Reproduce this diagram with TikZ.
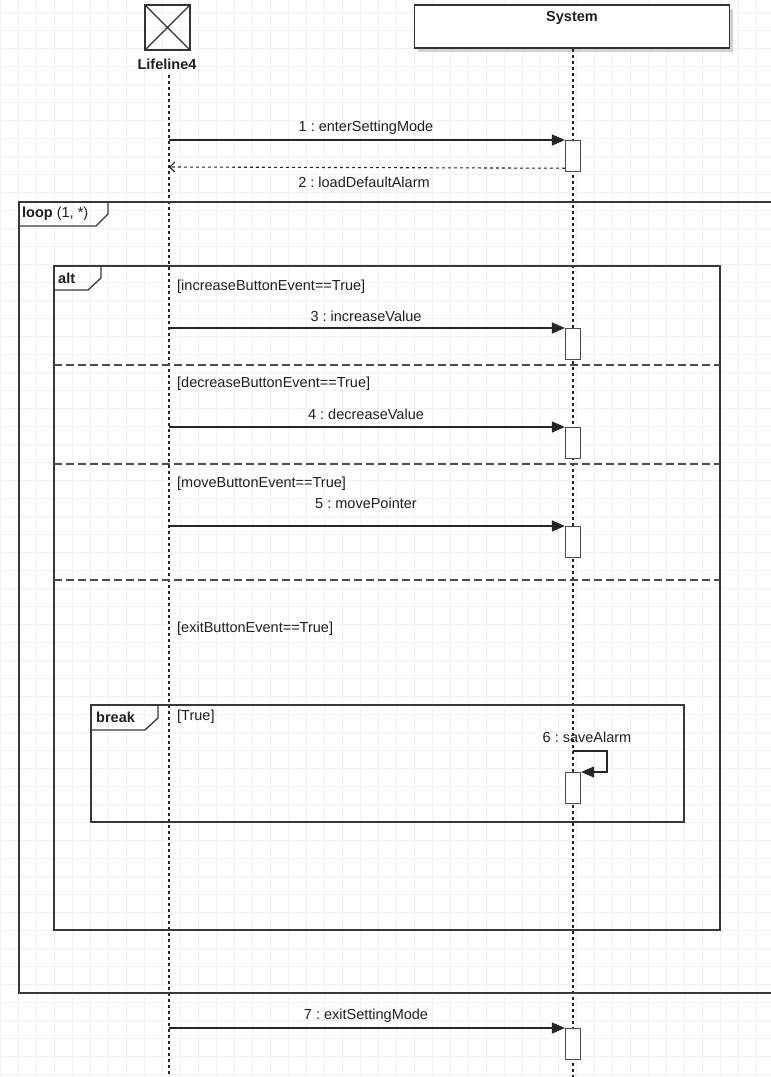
\documentclass[tikz,border=0pt]{standalone}
\usepackage{fontspec}
\setmainfont{Liberation Sans}
\usetikzlibrary{arrows.meta}
\begin{document}
\frenchspacing
\begin{tikzpicture}[x=1pt,y=-1pt,
  font=\fontsize{14.5}{17}\selectfont,
  gridline/.style={draw=black!5, line width=0.6pt},
  frame/.style={draw=black!78, line width=1.3pt},
  msg/.style={draw=black!85, line width=1.2pt, -{Triangle[length=13pt,width=11pt]}},
  ret/.style={draw=black!85, line width=1.1pt, dash pattern=on 3pt off 3pt, -{Straight Barb[length=5pt,width=10pt]}},
  life/.style={draw=black!85, line width=1.1pt, dash pattern=on 3pt off 3pt},
  act/.style={draw=black!70, fill=white, line width=1.2pt, minimum width=15pt, minimum height=31pt, inner sep=0pt, anchor=north},
  sep/.style={draw=black!70, line width=1.2pt, dash pattern=on 8pt off 4pt},
  lbl/.style={text=black!88, inner sep=0pt},
  guard/.style={text=black!88, inner sep=0pt, anchor=west}]
\useasboundingbox (0,0) rectangle (771,1077);
\fill[white] (0,0) rectangle (771,1077);
% background grid
\foreach \gx in {0,18,...,770} \draw[gridline] (\gx,0) -- (\gx,1077);
\foreach \gy in {12,30,...,1076} \draw[gridline] (0,\gy) -- (771,\gy);

% heads
\node[draw=black!80, line width=1.2pt, minimum width=45pt, minimum height=45pt, inner sep=0pt] (h1) at (167.5,27.5) {};
\draw[black!80, line width=1.1pt] (h1.north west) -- (h1.south east) (h1.north east) -- (h1.south west);
\node[lbl, font=\fontsize{14.5}{17}\selectfont\bfseries] (h1l) at (167,64) {Lifeline4};
\fill[black!18] (418,9) rectangle (733,52);
\node[draw=black!80, fill=white, line width=1.2pt, minimum width=315pt, minimum height=43pt, inner sep=0pt] (h2) at (572,26.5) {};
\node[lbl, font=\fontsize{14.5}{17}\selectfont\bfseries] (h2l) at (572,18) {System};

% lifelines
\coordinate (L1top) at (169,75);
\coordinate (L1bot) at (169,1077);
\coordinate (L2bot) at (573,1077);
\draw[life] (L1top) -- (L1bot);
\draw[life] (h2.south -| L2bot) -- (L2bot);

% loop frame
\coordinate (loopTR) at (771,202);
\coordinate (loopBR) at (771,993);
\draw[frame] (loopTR) -- (19,202) -- (19,993) -- (loopBR);
\draw[frame] (19,226) -- (96,226) -- (108,214) -- (108,202);
\node[lbl, anchor=west] (loopl) at (22,214) {\textbf{loop} (1, *)};

% alt frame
\draw[frame] (54,266) rectangle (720,930);
\draw[frame] (54,290) -- (88,290) -- (101,278) -- (101,266);
\node[lbl, anchor=west, font=\fontsize{14.5}{17}\selectfont\bfseries] (altl) at (58,278) {alt};
\draw[sep] (54,365) -- (720,365);
\draw[sep] (54,464) -- (720,464);
\draw[sep] (54,580) -- (720,580);
\node[guard] (g1) at (177,287) {[increaseButtonEvent==True]};
\node[guard] (g2) at (177,384) {[decreaseButtonEvent==True]};
\node[guard] (g3) at (177,484) {[moveButtonEvent==True]};
\node[guard] (g4) at (177,629) {[exitButtonEvent==True]};

% break frame
\draw[frame] (91,705) rectangle (684,822);
\draw[frame] (91,730) -- (145,730) -- (158,718) -- (158,705);
\node[lbl, anchor=west, font=\fontsize{14.5}{17}\selectfont\bfseries] (brkl) at (96,717) {break};
\node[guard] (g5) at (177,717) {[True]};

% message 1 and 2
\coordinate (m1) at (169,140);
\node[act] (a1) at (573,140) {};
\draw[msg] (m1) -- (a1.north west);
\node[lbl] (t1) at (366,128) {1 : enterSettingMode};
\coordinate (m2) at (169,167);
\draw[ret] ([yshift=4pt]a1.south west) -- (m2);
\node[lbl] (t2) at (364,182) {2 : loadDefaultAlarm};

% message 3
\coordinate (m3) at (169,328);
\node[act] (a3) at (573,328) {};
\draw[msg] (m3) -- (a3.north west);
\node[lbl] (t3) at (366,316) {3 : increaseValue};

% message 4
\coordinate (m4) at (169,427);
\node[act] (a4) at (573,427) {};
\draw[msg] (m4) -- (a4.north west);
\node[lbl] (t4) at (366,414) {4 : decreaseValue};

% message 5
\coordinate (m5) at (169,526);
\node[act] (a5) at (573,526) {};
\draw[msg] (m5) -- (a5.north west);
\node[lbl] (t5) at (366,503) {5 : movePointer};

% message 6 (self)
\coordinate (m6) at (573,751);
\node[act] (a6) at (573,772) {};
\draw[msg] (m6) -- ++(34,0) -- ++(0,21) -- (a6.north east);
\node[lbl] (t6) at (587,737) {6 : saveAlarm};

% message 7
\coordinate (m7) at (169,1028);
\node[act] (a7) at (573,1028) {};
\draw[msg] (m7) -- (a7.north west);
\node[lbl] (t7) at (366,1016) {7 : exitSettingMode};
\end{tikzpicture}
\end{document}
